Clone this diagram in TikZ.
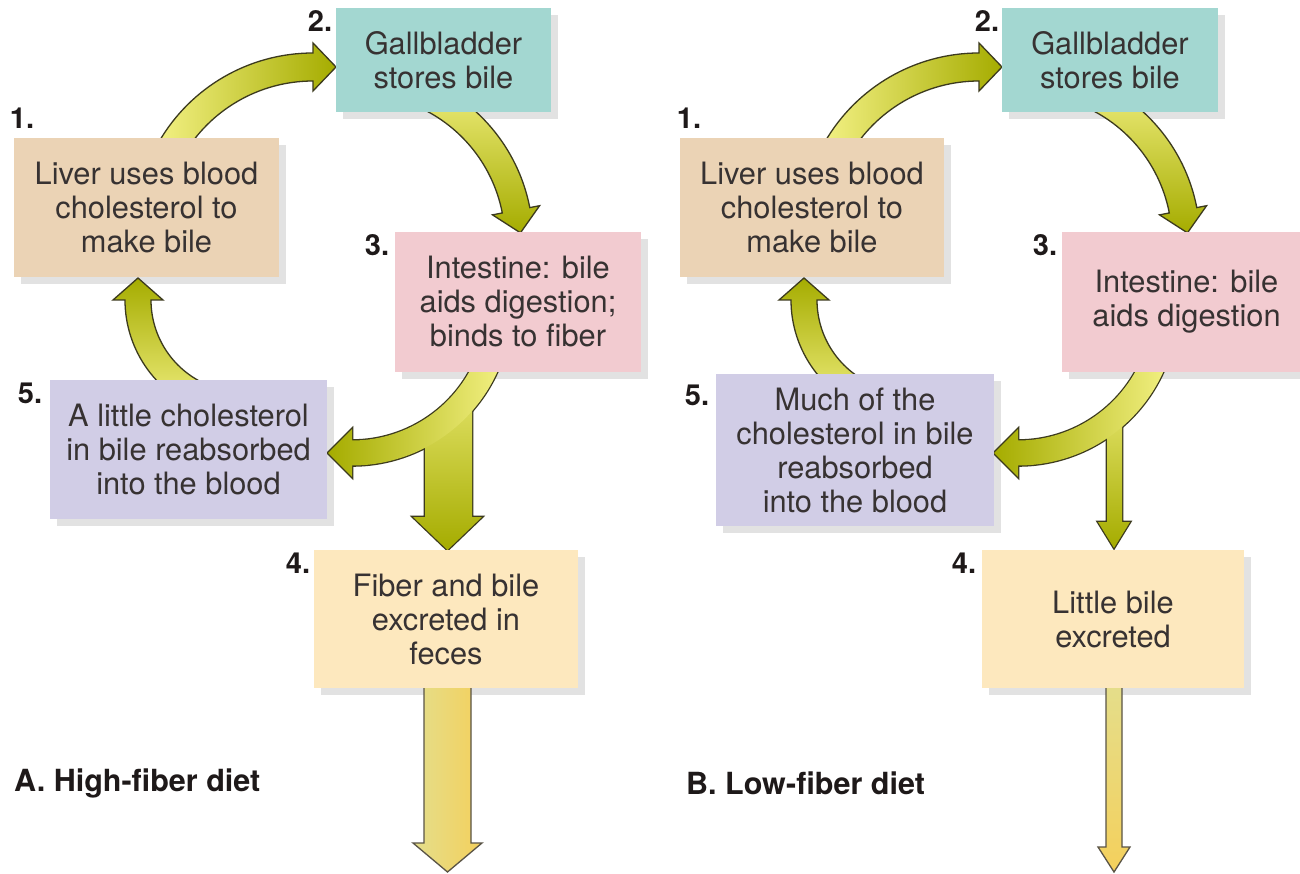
\documentclass[tikz,border=0pt]{standalone}
\usepackage{fontspec}
\setmainfont{TeX Gyre Heros}
\usetikzlibrary{calc}
\pgfdeclarelayer{bglayer}
\pgfdeclarelayer{shadowlayer}
\pgfdeclarelayer{arrowlayer}
\pgfsetlayers{bglayer,shadowlayer,arrowlayer,main}
\definecolor{cTan}{RGB}{235,211,181}
\definecolor{cTeal}{RGB}{163,215,209}
\definecolor{cPink}{RGB}{242,203,208}
\definecolor{cLav}{RGB}{209,205,230}
\definecolor{cYel}{RGB}{253,232,190}
\definecolor{cShadow}{RGB}{226,226,226}
\definecolor{txt}{RGB}{55,50,50}
\definecolor{numtxt}{RGB}{30,25,25}
\definecolor{arrlight}{RGB}{242,240,130}
\definecolor{arrdark}{RGB}{165,172,0}
\definecolor{arrline}{RGB}{60,58,30}
\definecolor{outline2}{RGB}{90,84,70}
\definecolor{goldA}{RGB}{228,222,140}
\definecolor{goldB}{RGB}{244,208,92}
\newcommand\curvedarrow[9]{%
  % #1 style, #2 cx, #3 cy, #4 R, #5 a1, #6 a2, #7 half shaft, #8 half head, #9 head length
  \pgfmathsetmacro\cRo{#4+#7}\pgfmathsetmacro\cRi{#4-#7}%
  \pgfmathsetmacro\cHo{#4+#8}\pgfmathsetmacro\cHi{#4-#8}%
  \pgfmathsetmacro\cT{#6+90*sign(#6-#5)}%
  \path[#1] ($(#2,#3)+(#5:\cRo)$) arc[start angle=#5, end angle=#6, radius=\cRo]
    -- ($(#2,#3)+(#6:\cHo)$) -- ($(#2,#3)+(#6:#4)+(\cT:#9)$) -- ($(#2,#3)+(#6:\cHi)$)
    -- ($(#2,#3)+(#6:\cRi)$) arc[start angle=#6, end angle=#5, radius=\cRi] -- cycle;}
\begin{document}
\begin{tikzpicture}[x=1pt,y=-1pt,
  box/.style={inner sep=0pt, align=center, text=txt,
    font=\fontsize{30.8}{34}\selectfont},
  num/.style={inner sep=0pt, text=numtxt, font=\fontsize{29}{34}\selectfont\bfseries},
  title/.style={inner sep=0pt, anchor=west, text=numtxt, font=\fontsize{30.5}{34}\selectfont\bfseries},
  arr/.style={draw=arrline, line width=1.3pt},
  arrstroke/.style={draw=arrline, line width=2.6pt},
  sh12/.style={left color=arrlight, right color=arrdark},
  sh23/.style={top color=arrlight, bottom color=arrdark},
  sh35/.style={left color=arrdark, right color=arrlight},
  sh51/.style={top color=arrdark, bottom color=arrlight},
  shv/.style={top color=arrlight!75!arrdark, bottom color=arrdark},
  outA/.style={draw=outline2, line width=1.3pt, left color=goldA, right color=goldB},
  outB/.style={draw=outline2, line width=1.3pt, top color=goldA, bottom color=goldB}]
\useasboundingbox (0,0) rectangle (1300,874);
\begin{pgfonlayer}{bglayer}
\fill[white] (0,0) rectangle (1300,874);
\end{pgfonlayer}

% ---------- boxes, panel A ----------
\node[box, fill=cTan, minimum width=265pt, minimum height=139pt] (A1) at (146.5,207.5) {Liver uses blood\\cholesterol to\\make bile};
\node[box, fill=cTeal, minimum width=215pt, minimum height=104pt] (A2) at (443.5,60) {Gallbladder\\stores bile};
\node[box, fill=cPink, minimum width=246pt, minimum height=140pt] (A3) at (518,302) {Intestine: bile\\aids digestion;\\binds to fiber};
\node[box, fill=cLav, minimum width=277pt, minimum height=139pt] (A5) at (188.5,449.5) {A little cholesterol\\in bile reabsorbed\\into the blood};
\node[box, fill=cYel, minimum width=264pt, minimum height=138pt] (A4) at (446,619) {Fiber and bile\\excreted in\\feces};
% ---------- boxes, panel B ----------
\node[box, fill=cTan, minimum width=264pt, minimum height=139pt] (B1) at (812,207.5) {Liver uses blood\\cholesterol to\\make bile};
\node[box, fill=cTeal, minimum width=216pt, minimum height=104pt] (B2) at (1110,60) {Gallbladder\\stores bile};
\node[box, fill=cPink, minimum width=249pt, minimum height=140pt] (B3) at (1186.5,302) {Intestine: bile\\aids digestion};
\node[box, fill=cLav, minimum width=278pt, minimum height=152pt] (B5) at (855,450) {Much of the\\cholesterol in bile\\reabsorbed\\into the blood};
\node[box, fill=cYel, minimum width=262pt, minimum height=138pt] (B4) at (1113,619) {Little bile\\excreted};

% ---------- shadows ----------
\begin{pgfonlayer}{shadowlayer}
\foreach \n in {A1,A2,A3,A4,A5,B1,B2,B3,B4,B5}
  \fill[cShadow] ([shift={(7,7)}]\n.north west) rectangle ([shift={(7,7)}]\n.south east);
\end{pgfonlayer}

% ---------- arrows ----------
\begin{pgfonlayer}{arrowlayer}
% panel A
\curvedarrow{arr, sh12}{313}{231}{164}{-150}{-90}{14}{24}{23}
\curvedarrow{arr, sh23}{358}{241}{161}{-70}{-11}{14}{24}{23}
\curvedarrow{arr, sh51}{243}{300}{105}{108}{180}{13}{25}{22}
\curvedarrow{arrstroke}{352}{306}{147}{20}{90}{12.5}{24}{24}
\path[arrstroke] (425,432) -- (425,517) -- (413,517) -- (447.5,550) -- (482,517) -- (472,517) -- (472,398) -- cycle;
\path[shv] (425,432) -- (425,517) -- (413,517) -- (447.5,550) -- (482,517) -- (472,517) -- (472,398) -- cycle;
\curvedarrow{sh35}{352}{306}{147}{20}{90}{12.5}{24}{24}
\path[outA] (424,680) -- (424,843) -- (413,843) -- (447.5,872) -- (482,843) -- (471,843) -- (471,680) -- cycle;
% panel B
\curvedarrow{arr, sh12}{979}{231}{164}{-150}{-90}{14}{24}{23}
\curvedarrow{arr, sh23}{1025}{241}{161}{-70}{-11}{14}{24}{23}
\curvedarrow{arr, sh51}{909}{300}{105}{108}{180}{13}{25}{22}
\curvedarrow{arrstroke}{1018}{306}{147}{20}{90}{12.5}{24}{24}
\path[arrstroke] (1107,424) -- (1107,522) -- (1098,522) -- (1114,548) -- (1130,522) -- (1122,522) -- (1122,412) -- cycle;
\path[shv] (1107,424) -- (1107,522) -- (1098,522) -- (1114,548) -- (1130,522) -- (1122,522) -- (1122,412) -- cycle;
\curvedarrow{sh35}{1018}{306}{147}{20}{90}{12.5}{24}{24}
\path[outB] (1106,680) -- (1106,847) -- (1098,847) -- (1114,872) -- (1130,847) -- (1122,847) -- (1122,680) -- cycle;
\end{pgfonlayer}

% ---------- step numbers ----------
\node[num] (nA1) at (22,118) {1.};
\node[num] (nA2) at (320,21) {2.};
\node[num] (nA3) at (377,245) {3.};
\node[num] (nA5) at (30,393) {5.};
\node[num] (nA4) at (298,563) {4.};
\node[num] (nB1) at (689,118) {1.};
\node[num] (nB2) at (987,21) {2.};
\node[num] (nB3) at (1045,245) {3.};
\node[num] (nB5) at (697,395) {5.};
\node[num] (nB4) at (964,563) {4.};

% ---------- panel titles ----------
\node[title] (tA) at (14,783) {A. High-fiber diet};
\node[title] (tB) at (686,783) {B. Low-fiber diet};
\end{tikzpicture}
\end{document}
